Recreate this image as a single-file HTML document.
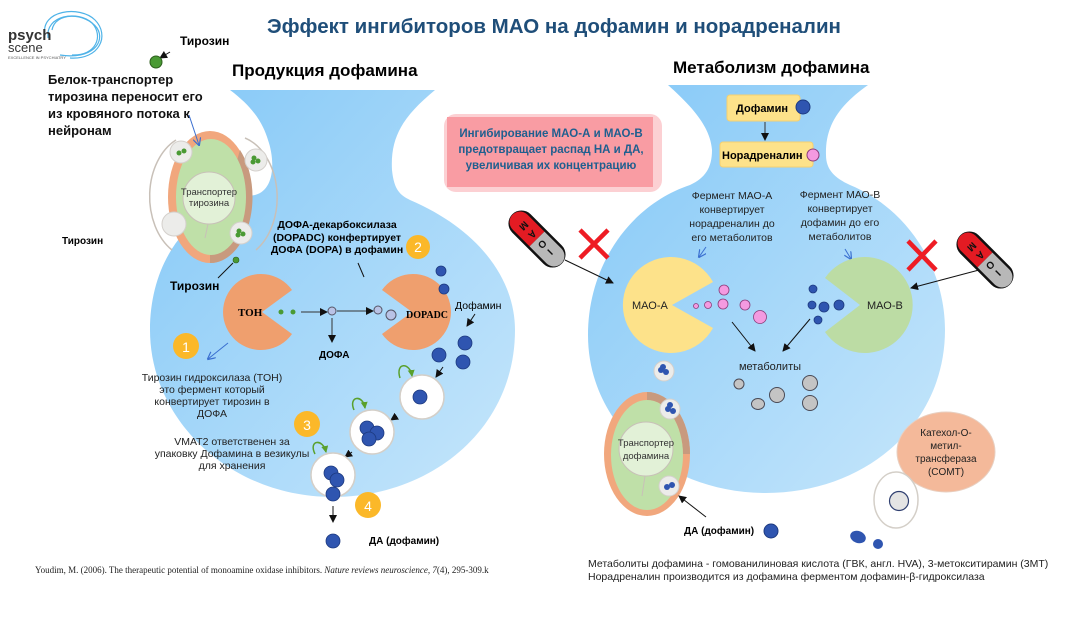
<!DOCTYPE html>
<html><head><meta charset="utf-8"><style>
html,body{margin:0;padding:0;background:#fff;}
svg{display:block;font-family:"Liberation Sans","Noto Sans CJK SC",sans-serif;}
.b{font-weight:bold;}
</style></head><body>
<svg width="1071" height="626" viewBox="0 0 1071 626" xmlns="http://www.w3.org/2000/svg">
<defs>
<linearGradient id="bg" x1="0" y1="0" x2="1" y2="1">
<stop offset="0" stop-color="#84c8f7"/><stop offset="1" stop-color="#c6e6fb"/></linearGradient>
<marker id="ar" markerWidth="8" markerHeight="8" refX="7" refY="4" orient="auto" markerUnits="userSpaceOnUse"><path d="M0,0 L8,4 L0,8 z" fill="#111"/></marker>
<marker id="ab" markerWidth="8" markerHeight="8" refX="7" refY="4" orient="auto" markerUnits="userSpaceOnUse"><path d="M0,0 L8,4 L0,8" fill="none" stroke="#3a6fd0" stroke-width="1.2"/></marker>
<marker id="ag" markerWidth="7" markerHeight="7" refX="6" refY="3.5" orient="auto" markerUnits="userSpaceOnUse"><path d="M0,0 L7,3.5 L0,7 z" fill="#5aa02c"/></marker>
</defs>

<!-- logo -->
<g fill="none" stroke="#4fb3e8" stroke-width="1.2">
<path d="M45,35 C40,10 80,5 95,20 C110,35 100,60 70,58"/>
<path d="M48,38 C45,15 78,10 92,23 C104,36 96,56 72,55"/>
<path d="M52,30 C55,12 85,12 97,28 C106,42 92,60 60,55"/>
</g>
<text x="8" y="40" font-size="15" font-weight="bold" fill="#333">psych</text>
<text x="8" y="52" font-size="13" fill="#333">scene</text>
<text x="8" y="59" font-size="4" fill="#555">EXCELLENCE IN PSYCHIATRY</text>

<text x="554" y="33" font-size="20.5" class="b" fill="#1f4e79" text-anchor="middle">Эффект ингибиторов МАО на дофамин и норадреналин</text>
<text x="180" y="45" font-size="12" class="b">Тирозин</text>
<line x1="170" y1="52" x2="160" y2="58" stroke="#111" marker-end="url(#ar)"/>
<circle cx="156" cy="62" r="6" fill="#4a9a34" stroke="#2c5e1c"/>
<g font-size="13" class="b" fill="#111">
<text x="48" y="84">Белок-транспортер</text>
<text x="48" y="101">тирозина переносит его</text>
<text x="48" y="118">из кровяного потока к</text>
<text x="48" y="135">нейронам</text>
</g>
<text x="232" y="76" font-size="17" class="b">Продукция дофамина</text>
<text x="673" y="73" font-size="17" class="b">Метаболизм дофамина</text>

<!-- left neuron -->
<path d="M230,90 L435,90 C405,115 390,135 392,170 C394,190 400,195 410,200 C480,230 515,280 515,330 C515,430 430,497 333,497 C230,497 150,420 150,330 C150,260 190,205 255,195 C275,190 275,160 268,140 C262,120 250,105 230,90 Z" fill="url(#bg)"/>
<!-- right neuron -->
<path d="M668,85 L868,85 C840,105 825,125 826,155 C826,170 835,178 850,185 C910,210 945,270 945,330 C945,425 865,493 766,493 C667,493 588,425 588,335 C588,265 630,205 690,185 C705,178 712,168 712,150 C710,125 690,105 668,85 Z" fill="url(#bg)"/>

<!-- tyrosine transporter -->
<path d="M245,138 A45,62 0 0 1 256,250" fill="none" stroke="#c8c0b8" stroke-width="1.5"/>
<path d="M172,250 A45,62 0 0 1 176,140" fill="none" stroke="#c8c0b8" stroke-width="1.5"/>
<ellipse cx="210" cy="197" rx="42" ry="66" fill="#f1a77d"/>
<path d="M240,150 A42,66 0 0 1 210,263 L210,255 Z" fill="#c89a7e"/>
<ellipse cx="211" cy="197" rx="35" ry="58" fill="#bfe0a8"/>
<circle cx="209" cy="198" r="26" fill="#e2f1d7" stroke="#c8c0b8"/>
<line x1="208" y1="224" x2="205" y2="238" stroke="#c8c0b8"/>
<text x="209" y="195" font-size="9.5" text-anchor="middle" fill="#333">Транспортер</text>
<text x="209" y="206" font-size="9.5" text-anchor="middle" fill="#333">тирозина</text>
<line x1="189" y1="115" x2="199" y2="145" stroke="#3a6fd0" marker-end="url(#ab)"/>
<circle cx="181" cy="152" r="11" fill="#ececea" stroke="#d4d0cc"/><circle cx="179" cy="153" r="2.5" fill="#4a9a34"/><circle cx="184" cy="151" r="2.5" fill="#4a9a34"/>
<circle cx="256" cy="160" r="11" fill="#ececea" stroke="#d4d0cc"/><circle cx="254" cy="158" r="2.5" fill="#4a9a34"/><circle cx="258" cy="161" r="2.5" fill="#4a9a34"/><circle cx="253" cy="162" r="2.5" fill="#4a9a34"/>
<circle cx="174" cy="224" r="12" fill="#ececea" stroke="#d4d0cc"/>
<circle cx="241" cy="233" r="11" fill="#ececea" stroke="#d4d0cc"/><circle cx="239" cy="231" r="2.5" fill="#4a9a34"/><circle cx="243" cy="234" r="2.5" fill="#4a9a34"/><circle cx="238" cy="235" r="2.5" fill="#4a9a34"/>
<text x="62" y="244" font-size="10" class="b">Тирозин</text>
<circle cx="236" cy="260" r="3" fill="#4a9a34" stroke="#2c5e1c" stroke-width=".6"/>
<line x1="233" y1="263" x2="218" y2="278" stroke="#111"/>
<text x="170" y="290" font-size="12" class="b">Тирозин</text>

<!-- TOH / DOPADC -->
<path d="M262,312 L292,290 A38,38 0 1 0 292,334 Z" fill="#ef9f6e"/>
<text x="238" y="316" font-size="11" class="b" font-family="Liberation Serif,serif">TOH</text>
<path d="M412,312 L382,290 A38,38 0 1 1 382,334 Z" fill="#ef9f6e"/>
<text x="406" y="318" font-size="10" class="b" font-family="Liberation Serif,serif">DOPADC</text>
<circle cx="281" cy="312" r="2.5" fill="#4a9a34"/><circle cx="293" cy="312" r="2.5" fill="#4a9a34"/>
<line x1="301" y1="312" x2="327" y2="312" stroke="#333" marker-end="url(#ar)"/>
<circle cx="332" cy="311" r="4" fill="#b9c3e6" stroke="#556"/>
<line x1="337" y1="311" x2="373" y2="311" stroke="#333" marker-end="url(#ar)"/>
<circle cx="378" cy="310" r="4" fill="#b9c3e6" stroke="#556"/>
<circle cx="391" cy="315" r="5" fill="#b9c3e6" stroke="#556"/>
<line x1="332" y1="318" x2="332" y2="342" stroke="#333" marker-end="url(#ar)"/>
<text x="319" y="358" font-size="10" class="b">ДОФА</text>
<g font-size="10.5" class="b" text-anchor="middle">
<text x="337" y="228">ДОФА-декарбоксилаза</text>
<text x="337" y="241">(DOPADC) конфертирует</text>
<text x="337" y="253">ДОФА (DOPA) в дофамин</text>
</g>
<line x1="358" y1="263" x2="364" y2="277" stroke="#111"/>
<circle cx="418" cy="247" r="12" fill="#fbb829"/><text x="418" y="252" font-size="14" fill="#fff" text-anchor="middle">2</text>
<g fill="#2f55b0" stroke="#1d3a80" stroke-width=".8">
<circle cx="441" cy="271" r="5"/><circle cx="444" cy="289" r="5"/>
<circle cx="465" cy="343" r="7"/><circle cx="439" cy="355" r="7"/><circle cx="463" cy="362" r="7"/>
</g>
<text x="455" y="309" font-size="10.5">Дофамин</text>
<line x1="475" y1="314" x2="467" y2="326" stroke="#111" marker-end="url(#ar)"/>
<line x1="443" y1="367" x2="436" y2="377" stroke="#111" marker-end="url(#ar)"/>
<line x1="397" y1="416" x2="391" y2="420" stroke="#111" marker-end="url(#ar)"/>
<line x1="352" y1="452" x2="345" y2="457" stroke="#111" marker-end="url(#ar)"/>
<g fill="#fff" stroke="#d4cfc8" stroke-width="1.5">
<circle cx="422" cy="397" r="22"/><circle cx="372" cy="432" r="22"/><circle cx="333" cy="475" r="22"/>
</g>
<g fill="none" stroke="#5aa02c" stroke-width="1.5">
<path d="M400,378 C395,362 410,362 412,376" marker-end="url(#ag)"/>
<path d="M354,410 C348,396 363,394 365,408" marker-end="url(#ag)"/>
<path d="M315,454 C308,440 323,438 326,452" marker-end="url(#ag)"/>
</g>
<g fill="#2f55b0" stroke="#1d3a80" stroke-width=".8">
<circle cx="420" cy="397" r="7"/>
<circle cx="367" cy="428" r="7"/><circle cx="377" cy="433" r="7"/><circle cx="369" cy="439" r="7"/>
<circle cx="331" cy="473" r="7"/><circle cx="337" cy="480" r="7"/><circle cx="333" cy="494" r="7"/>
<circle cx="333" cy="541" r="7"/>
</g>
<line x1="333" y1="506" x2="333" y2="522" stroke="#111" marker-end="url(#ar)"/>
<text x="369" y="544" font-size="10" class="b">ДА (дофамин)</text>
<circle cx="186" cy="346" r="13" fill="#fbb829"/><text x="186" y="352" font-size="14" fill="#fff" text-anchor="middle">1</text>
<circle cx="307" cy="424" r="13" fill="#fbb829"/><text x="307" y="430" font-size="14" fill="#fff" text-anchor="middle">3</text>
<circle cx="368" cy="505" r="13" fill="#fbb829"/><text x="368" y="511" font-size="14" fill="#fff" text-anchor="middle">4</text>
<line x1="228" y1="343" x2="208" y2="359" stroke="#3a6fd0" marker-end="url(#ab)"/>
<g font-size="10.5" text-anchor="middle" fill="#222">
<text x="212" y="381">Тирозин гидроксилаза (TOH)</text>
<text x="212" y="393">это фермент который</text>
<text x="212" y="405">конвертирует тирозин в</text>
<text x="212" y="417">ДОФА</text>
<text x="232" y="445">VMAT2 ответственен за</text>
<text x="232" y="457">упаковку Дофамина в везикулы</text>
<text x="232" y="469">для хранения</text>
</g>
<text x="35" y="573" font-size="9" font-family="Liberation Serif,serif" fill="#222">Youdim, M. (2006). The therapeutic potential of monoamine oxidase inhibitors. <tspan font-style="italic">Nature reviews neuroscience, 7</tspan>(4), 295-309.k</text>

<!-- pink box -->
<rect x="444" y="114" width="218" height="78" rx="12" fill="#fcd0d3"/>
<rect x="447" y="117" width="206" height="70" fill="#f99ca3"/>
<g font-size="11.5" class="b" fill="#1f5f8f" text-anchor="middle">
<text x="551" y="137">Ингибирование МАО-А и МАО-В</text>
<text x="551" y="153">предотвращает распад НА и ДА,</text>
<text x="551" y="169">увеличивая их концентрацию</text>
</g>

<!-- right top -->
<rect x="727" y="95" width="73" height="26" rx="3" fill="#fde28a" stroke="#f5d070"/>
<text x="736" y="112" font-size="11" class="b">Дофамин</text>
<circle cx="803" cy="107" r="7" fill="#2f55b0" stroke="#1d3a80"/>
<line x1="765" y1="122" x2="765" y2="140" stroke="#333" marker-end="url(#ar)"/>
<rect x="720" y="142" width="93" height="25" rx="3" fill="#fde28a" stroke="#f5d070"/>
<text x="722" y="159" font-size="11" class="b">Норадреналин</text>
<circle cx="813" cy="155" r="6" fill="#f49ae0" stroke="#8a3d7a"/>
<g font-size="10.5" text-anchor="middle" fill="#222">
<text x="732" y="199">Фермент МАО-А</text><text x="732" y="213">конвертирует</text><text x="732" y="227">норадреналин до</text><text x="732" y="241">его метаболитов</text>
<text x="840" y="198">Фермент МАО-В</text><text x="840" y="212">конвертирует</text><text x="840" y="226">дофамин до его</text><text x="840" y="240">метаболитов</text>
</g>
<line x1="706" y1="247" x2="699" y2="257" stroke="#3a6fd0" marker-end="url(#ab)"/>
<line x1="845" y1="249" x2="851" y2="259" stroke="#3a6fd0" marker-end="url(#ab)"/>

<!-- MAO pacmen -->
<path d="M672,305 L713,282 A48,48 0 1 0 713,328 Z" fill="#fde28a"/>
<text x="632" y="309" font-size="11" fill="#222">МАО-А</text>
<path d="M860,305 L825,278 A48,48 0 1 1 825,332 Z" fill="#bcdca4"/>
<text x="867" y="309" font-size="11" fill="#222">МАО-В</text>
<g fill="#f49ae0" stroke="#8a3d7a" stroke-width=".8">
<circle cx="696" cy="306" r="2.5"/><circle cx="708" cy="305" r="3.5"/><circle cx="723" cy="304" r="5"/><circle cx="724" cy="290" r="5"/><circle cx="745" cy="305" r="5"/><circle cx="760" cy="317" r="6.5"/>
</g>
<g fill="#2f55b0" stroke="#1d3a80" stroke-width=".8">
<circle cx="813" cy="289" r="4"/><circle cx="812" cy="305" r="4"/><circle cx="824" cy="307" r="5"/><circle cx="839" cy="305" r="5"/><circle cx="818" cy="320" r="4"/>
</g>
<line x1="732" y1="322" x2="755" y2="351" stroke="#111" marker-end="url(#ar)"/>
<line x1="810" y1="319" x2="783" y2="351" stroke="#111" marker-end="url(#ar)"/>
<text x="770" y="370" font-size="11" text-anchor="middle" fill="#222">метаболиты</text>
<g fill="#c4c4c4" stroke="#4a4a55" stroke-width="1">
<circle cx="739" cy="384" r="5"/><circle cx="777" cy="395" r="7.5"/><ellipse cx="758" cy="404" rx="6.5" ry="5.5"/><circle cx="810" cy="383" r="7.5"/><circle cx="810" cy="403" r="7.5"/>
</g>

<!-- pills -->
<g transform="translate(537,239) rotate(45)">
<rect x="-35" y="-13" width="70" height="26" rx="13" fill="#111"/>
<path d="M0,-10.5 L-24,-10.5 A10.5,10.5 0 0 0 -24,10.5 L0,10.5 Z" fill="#e31b23"/>
<path d="M0,-10.5 L24,-10.5 A10.5,10.5 0 0 1 24,10.5 L0,10.5 Z" fill="#b8b8b8"/>
<text x="-18" y="4" font-size="10" class="b" fill="#111" transform="rotate(90,-18,0)" text-anchor="middle">M</text>
<text x="-6" y="4" font-size="10" class="b" fill="#111" transform="rotate(90,-6,0)" text-anchor="middle">A</text>
<text x="8" y="4" font-size="10" class="b" fill="#111" transform="rotate(90,8,0)" text-anchor="middle">O</text>
<text x="19" y="4" font-size="10" class="b" fill="#111" transform="rotate(90,19,0)" text-anchor="middle">I</text>
</g>
<g transform="translate(985,260) rotate(45)">
<rect x="-35" y="-13" width="70" height="26" rx="13" fill="#111"/>
<path d="M0,-10.5 L-24,-10.5 A10.5,10.5 0 0 0 -24,10.5 L0,10.5 Z" fill="#e31b23"/>
<path d="M0,-10.5 L24,-10.5 A10.5,10.5 0 0 1 24,10.5 L0,10.5 Z" fill="#b8b8b8"/>
<text x="-18" y="4" font-size="10" class="b" fill="#111" transform="rotate(90,-18,0)" text-anchor="middle">M</text>
<text x="-6" y="4" font-size="10" class="b" fill="#111" transform="rotate(90,-6,0)" text-anchor="middle">A</text>
<text x="8" y="4" font-size="10" class="b" fill="#111" transform="rotate(90,8,0)" text-anchor="middle">O</text>
<text x="19" y="4" font-size="10" class="b" fill="#111" transform="rotate(90,19,0)" text-anchor="middle">I</text>
</g>
<g stroke="#ee1c24" stroke-width="4.5">
<line x1="580" y1="230" x2="608" y2="258"/><line x1="608" y1="230" x2="580" y2="258"/>
<line x1="908" y1="241" x2="936" y2="270"/><line x1="936" y1="241" x2="908" y2="270"/>
</g>
<line x1="565" y1="260" x2="613" y2="283" stroke="#111" marker-end="url(#ar)"/>
<line x1="979" y1="270" x2="911" y2="288" stroke="#111" marker-end="url(#ar)"/>

<!-- dopamine transporter -->
<ellipse cx="647" cy="454" rx="43" ry="62" fill="#f1a77d"/>
<path d="M647,392 A43,62 0 0 1 690,454 L683,454 A36,55 0 0 0 647,400 Z" fill="#c89a7e"/>
<ellipse cx="647" cy="455" rx="36" ry="55" fill="#bfe0a8"/>
<circle cx="646" cy="449" r="27" fill="#e2f1d7" stroke="#c8c0b8"/>
<line x1="645" y1="476" x2="642" y2="496" stroke="#c8c0b8"/>
<text x="646" y="446" font-size="9.5" text-anchor="middle" fill="#333">Транспортер</text>
<text x="646" y="459" font-size="9.5" text-anchor="middle" fill="#333">дофамина</text>
<g fill="#ececea" stroke="#d4d0cc"><circle cx="664" cy="371" r="10"/><circle cx="670" cy="409" r="10"/><circle cx="669" cy="486" r="10"/></g>
<g fill="#2f55b0"><circle cx="661" cy="370" r="3"/><circle cx="666" cy="372" r="3"/><circle cx="663" cy="367" r="3"/>
<circle cx="668" cy="409" r="3"/><circle cx="673" cy="411" r="3"/><circle cx="670" cy="405" r="3"/>
<circle cx="667" cy="487" r="3"/><circle cx="672" cy="485" r="3"/></g>
<line x1="706" y1="517" x2="679" y2="496" stroke="#111" marker-end="url(#ar)"/>
<text x="684" y="534" font-size="10" class="b">ДА (дофамин)</text>
<circle cx="771" cy="531" r="7" fill="#2f55b0" stroke="#1d3a80"/>

<!-- COMT -->
<ellipse cx="946" cy="452" rx="49" ry="40" fill="#f4b99a" stroke="#e8cfc0"/>
<g font-size="10" text-anchor="middle" fill="#222">
<text x="946" y="436">Катехол-О-</text><text x="946" y="449">метил-</text><text x="946" y="462">трансфераза</text><text x="946" y="475">(COMT)</text>
</g>
<ellipse cx="896" cy="500" rx="22" ry="28" fill="#fff" stroke="#d4cfc8" stroke-width="1.5"/>
<circle cx="899" cy="501" r="9.5" fill="#e4e4e4" stroke="#2f3f70" stroke-width="1.2"/>
<ellipse cx="858" cy="537" rx="8" ry="6" fill="#2f55b0" transform="rotate(20,858,537)"/>
<circle cx="878" cy="544" r="5" fill="#2f55b0"/>
<g font-size="10.5" fill="#222">
<text x="588" y="567">Метаболиты дофамина - гомованилиновая кислота (ГВК, англ. HVA), 3-метокситирамин (3МТ)</text>
<text x="588" y="580">Норадреналин производится из дофамина ферментом дофамин-β-гидроксилаза</text>
</g>
</svg>
</body></html>
